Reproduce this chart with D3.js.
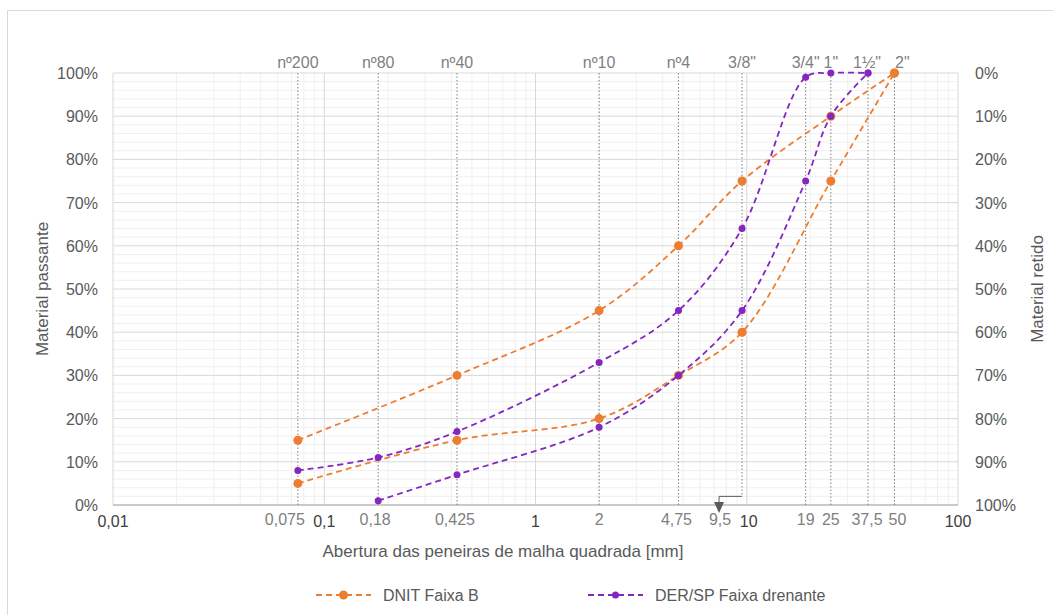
<!DOCTYPE html>
<html>
<head>
<meta charset="utf-8">
<script src="https://cdn.jsdelivr.net/npm/d3@7/dist/d3.min.js"></script>
<style>
  body { margin: 0; background: #fff; }
  svg { font-family: "Liberation Sans", Arial, sans-serif; }
</style>
</head>
<body>
<div id="chart"></div>
<script>
// sieves (abertura em mm) and their names
const sieveSizes = [0.075, 0.18, 0.425, 2, 4.75, 9.5, 19, 25, 37.5, 50];
const sieveNames = ["nº200", "nº80", "nº40", "nº10", "nº4", "3/8\"", "3/4\"", "1\"", "1½\"", "2\""];
const sieveLabels = ["0,075", "0,18", "0,425", "2", "4,75", "9,5", "19", "25", "37,5", "50"];
const decadeTicks = [0.01, 0.1, 1, 10, 100];
const decadeLabels = ["0,01", "0,1", "1", "10", "100"];
const yTicks = [0, 10, 20, 30, 40, 50, 60, 70, 80, 90, 100];

// DNIT Faixa B
const dnitSizes = [0.075, 0.425, 2, 4.75, 9.5, 25, 50];
const dnitUpper = [15, 30, 45, 60, 75, 90, 100];
const dnitLower = [5, 15, 20, 30, 40, 75, 100];

// DER/SP Faixa drenante
const derUpperSizes = [0.075, 0.18, 0.425, 2, 4.75, 9.5, 19, 25, 37.5];
const derUpper = [8, 11, 17, 33, 45, 64, 99, 100, 100];
const derLowerSizes = [0.18, 0.425, 2, 4.75, 9.5, 19, 25, 37.5];
const derLower = [1, 7, 18, 30, 45, 75, 90, 100];

const W = 1053, H = 615;
const margin = {top: 73, right: 95, bottom: 110, left: 113};
const orange = "#ED7D31", purple = "#8426BF";

const svg = d3.select("#chart").append("svg")
  .attr("width", W).attr("height", H);

svg.append("rect")
  .attr("x", 7.5).attr("y", 10.5)
  .attr("width", 1070).attr("height", 630)
  .attr("fill", "none").attr("stroke", "#d9d9d9");

const x = d3.scaleLog().domain([0.01, 100]).range([margin.left, W - margin.right]);
const y = d3.scaleLinear().domain([0, 100]).range([H - margin.bottom, margin.top]);
const yRight = d3.scaleLinear().domain([100, 0]).range([H - margin.bottom, margin.top]);

// minor grid
const minorX = [];
[0.01, 0.1, 1, 10].forEach(d => { for (let k = 2; k <= 9; k++) minorX.push(d * k); });
svg.append("g").selectAll("line").data(minorX).join("line")
  .attr("x1", d => x(d)).attr("x2", d => x(d))
  .attr("y1", y(0)).attr("y2", y(100))
  .attr("stroke", "#f0f0f0");
svg.append("g").selectAll("line").data(d3.range(0, 101, 2).filter(d => d % 10 !== 0)).join("line")
  .attr("x1", x(0.01)).attr("x2", x(100))
  .attr("y1", d => y(d)).attr("y2", d => y(d))
  .attr("stroke", "#f0f0f0");

// major grid
svg.append("g").selectAll("line").data(decadeTicks).join("line")
  .attr("x1", d => x(d)).attr("x2", d => x(d))
  .attr("y1", y(0)).attr("y2", y(100))
  .attr("stroke", "#d9d9d9");
svg.append("g").selectAll("line").data(yTicks).join("line")
  .attr("x1", x(0.01)).attr("x2", x(100))
  .attr("y1", d => y(d)).attr("y2", d => y(d))
  .attr("stroke", "#d9d9d9");
svg.append("line")
  .attr("x1", x(0.01)).attr("x2", x(100))
  .attr("y1", y(0)).attr("y2", y(0))
  .attr("stroke", "#bfbfbf").attr("stroke-width", 1.5);

// sieve dotted lines
svg.append("g").selectAll("line").data(sieveSizes).join("line")
  .attr("x1", d => x(d)).attr("x2", d => x(d))
  .attr("y1", y(100)).attr("y2", d => d === 9.5 ? y(2) : y(0))
  .attr("stroke", "#7f7f7f").attr("stroke-dasharray", "1.5,2");

// 9,5 annotation arrow
const ax = x(9.5), bx = x(9.5) - 23;
svg.append("path")
  .attr("d", `M${ax},${y(2)} H${bx} V${y(0) - 1}`)
  .attr("fill", "none").attr("stroke", "#595959").attr("stroke-width", 1);
svg.append("path")
  .attr("d", `M${bx - 5},${y(0) - 3} L${bx + 5},${y(0) - 3} L${bx},${y(0) + 8} Z`)
  .attr("fill", "#595959");

// axis labels
svg.append("g").selectAll("text").data(yTicks).join("text")
  .attr("x", 98).attr("y", d => y(d) + 6)
  .attr("text-anchor", "end").attr("font-size", 16).attr("fill", "#595959")
  .text(d => d + "%");
svg.append("g").selectAll("text").data(yTicks).join("text")
  .attr("x", 975).attr("y", d => yRight(d) + 6)
  .attr("text-anchor", "start").attr("font-size", 16).attr("fill", "#595959")
  .text(d => d + "%");

svg.append("g").selectAll("text").data(decadeTicks).join("text")
  .attr("x", d => x(d) + (d === 10 ? 2 : 0)).attr("y", 527)
  .attr("text-anchor", "middle").attr("font-size", 16).attr("fill", "#404040")
  .text((d, i) => decadeLabels[i]);
const labelShift = {0.075: -13, 0.18: -3, 0.425: -2, 4.75: -2, 9.5: -22, 37.5: -1, 50: 3};
svg.append("g").selectAll("text").data(sieveSizes).join("text")
  .attr("x", d => x(d) + (labelShift[d] || 0)).attr("y", 525)
  .attr("text-anchor", "middle").attr("font-size", 16).attr("fill", "#7f7f7f")
  .text((d, i) => sieveLabels[i]);

svg.append("g").selectAll("text").data(sieveSizes).join("text")
  .attr("x", d => x(d) + (d === 50 ? 8 : d === 37.5 ? -1 : 0)).attr("y", 68)
  .attr("text-anchor", "middle").attr("font-size", 16).attr("fill", "#7f7f7f")
  .text((d, i) => sieveNames[i]);

svg.append("text")
  .attr("x", 503).attr("y", 557)
  .attr("text-anchor", "middle").attr("font-size", 17).attr("fill", "#595959")
  .text("Abertura das peneiras de malha quadrada [mm]");
svg.append("text")
  .attr("transform", `translate(48,${(y(0) + y(100)) / 2}) rotate(-90)`)
  .attr("text-anchor", "middle").attr("font-size", 17).attr("fill", "#595959")
  .text("Material passante");
svg.append("text")
  .attr("transform", `translate(1043,${(y(0) + y(100)) / 2}) rotate(-90)`)
  .attr("text-anchor", "middle").attr("font-size", 17).attr("fill", "#595959")
  .text("Material retido");

// series
const series = [
  {sizes: dnitSizes, values: dnitUpper, color: orange, r: 4.5},
  {sizes: dnitSizes, values: dnitLower, color: orange, r: 4.5},
  {sizes: derUpperSizes, values: derUpper, color: purple, r: 3.5},
  {sizes: derLowerSizes, values: derLower, color: purple, r: 3.5}
];
const line = d3.line().x(d => x(d[0])).y(d => y(d[1])).curve(d3.curveCatmullRom.alpha(0.5));

series.forEach(s => {
  const pts = s.sizes.map((d, i) => [d, s.values[i]]);
  svg.append("path").datum(pts)
    .attr("d", line)
    .attr("fill", "none").attr("stroke", s.color)
    .attr("stroke-width", 1.8).attr("stroke-dasharray", "6,4");
  svg.append("g").selectAll("circle").data(pts).join("circle")
    .attr("cx", d => x(d[0])).attr("cy", d => y(d[1]))
    .attr("r", s.r).attr("fill", s.color);
});

// legend
const legend = [
  {label: "DNIT Faixa B", color: orange, r: 4.5, x0: 316},
  {label: "DER/SP Faixa drenante", color: purple, r: 3.5, x0: 588}
];
const lg = svg.append("g").selectAll("g").data(legend).join("g")
  .attr("transform", d => `translate(${d.x0},595)`);
lg.append("line").attr("x1", 0).attr("x2", 55).attr("y1", 0).attr("y2", 0)
  .attr("stroke", d => d.color).attr("stroke-width", 1.8).attr("stroke-dasharray", "6,4");
lg.append("circle").attr("cx", 27.5).attr("cy", 0).attr("r", d => d.r).attr("fill", d => d.color);
lg.append("text").attr("x", 67).attr("y", 6)
  .attr("font-size", 16).attr("fill", "#595959")
  .text(d => d.label);
</script>
</body>
</html>
